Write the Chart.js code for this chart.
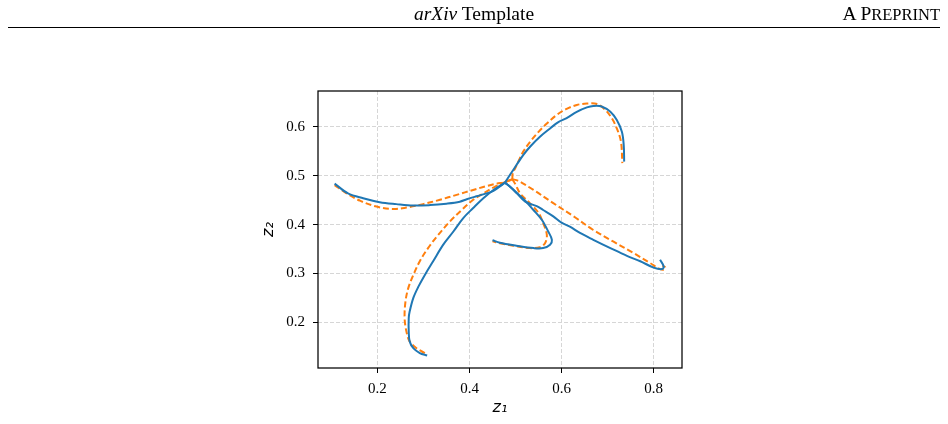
<!DOCTYPE html>
<html>
<head>
<meta charset="utf-8">
<script src="https://cdn.jsdelivr.net/npm/chart.js@4.4.1/dist/chart.umd.min.js"></script>
<style>
  html, body { margin: 0; padding: 0; background: #fff; }
  #wrap { position: relative; width: 948px; height: 424px; overflow: hidden; }
  #c { position: absolute; left: 0; top: 0; }
  .hdr { position: absolute; font-family: "Liberation Serif", "Times New Roman", serif; font-size: 19.5px; line-height: 20px; color: #000; white-space: nowrap; }
  #title { left: 0; width: 948px; top: 4px; text-align: center; padding-left: 0px; }
  #pre { right: 8px; top: 4px; }
  #pre .sc { font-size: 16.5px; }
  #rule { position: absolute; left: 8px; width: 932px; top: 27px; height: 1px; background: #000; }
</style>
</head>
<body>
<div id="wrap">
  <canvas id="c" width="948" height="424"></canvas>
  <div class="hdr" id="title"><i>arXiv</i> Template</div>
  <div class="hdr" id="pre">A P<span class="sc">REPRINT</span></div>
  <div id="rule"></div>
</div>
<script>
// ---- data (z1, z2) ----
const trueLeft = [[0.107,0.484],[0.136,0.464],[0.169,0.454],[0.205,0.446],[0.241,0.442],[0.278,0.439],[0.314,0.440],[0.350,0.443],[0.379,0.447],[0.394,0.452],[0.415,0.458],[0.437,0.464],[0.452,0.469],[0.470,0.481],[0.477,0.486]];
const predLeft = [[0.107,0.481],[0.133,0.464],[0.162,0.449],[0.198,0.437],[0.234,0.432],[0.263,0.435],[0.299,0.442],[0.336,0.451],[0.372,0.461],[0.408,0.471],[0.437,0.479],[0.459,0.484],[0.477,0.487],[0.493,0.493]];

const trueLowLeft = [[0.308,0.132],[0.292,0.137],[0.278,0.147],[0.270,0.161],[0.268,0.181],[0.268,0.209],[0.270,0.222],[0.278,0.250],[0.289,0.273],[0.303,0.297],[0.321,0.325],[0.343,0.359],[0.365,0.386],[0.386,0.413],[0.408,0.434],[0.430,0.454],[0.452,0.471],[0.477,0.486]];
const predLowLeft = [[0.303,0.137],[0.285,0.147],[0.270,0.161],[0.263,0.181],[0.259,0.209],[0.261,0.243],[0.267,0.270],[0.278,0.297],[0.292,0.325],[0.310,0.352],[0.332,0.379],[0.357,0.406],[0.383,0.430],[0.408,0.451],[0.430,0.464],[0.452,0.476],[0.477,0.487],[0.493,0.493]];

const trueUpRight = [[0.477,0.486],[0.488,0.502],[0.502,0.522],[0.517,0.543],[0.532,0.560],[0.553,0.580],[0.575,0.597],[0.593,0.610],[0.611,0.618],[0.633,0.631],[0.655,0.640],[0.669,0.643],[0.687,0.642],[0.706,0.631],[0.720,0.614],[0.731,0.590],[0.735,0.563],[0.736,0.529]];
const predUpRight = [[0.493,0.493],[0.494,0.505],[0.499,0.515],[0.506,0.529],[0.517,0.550],[0.532,0.570],[0.550,0.590],[0.568,0.607],[0.590,0.625],[0.611,0.637],[0.633,0.645],[0.655,0.648],[0.677,0.647],[0.695,0.635],[0.709,0.618],[0.720,0.597],[0.729,0.570],[0.732,0.526]];

const trueHook = [[0.477,0.486],[0.490,0.476],[0.506,0.462],[0.521,0.449],[0.539,0.430],[0.557,0.410],[0.571,0.386],[0.579,0.369],[0.575,0.359],[0.560,0.352],[0.539,0.352],[0.502,0.357],[0.466,0.363],[0.450,0.368]];
const predHook = [[0.493,0.493],[0.500,0.482],[0.510,0.464],[0.531,0.444],[0.550,0.424],[0.560,0.403],[0.568,0.379],[0.564,0.362],[0.553,0.354],[0.531,0.352],[0.495,0.357],[0.466,0.362],[0.450,0.366]];

const trueRight = [[0.477,0.486],[0.490,0.476],[0.503,0.464],[0.521,0.447],[0.546,0.438],[0.560,0.430],[0.582,0.417],[0.600,0.404],[0.618,0.396],[0.640,0.383],[0.669,0.369],[0.706,0.352],[0.742,0.336],[0.771,0.325],[0.800,0.312],[0.818,0.309],[0.822,0.314],[0.814,0.328]];
const predRight = [[0.493,0.493],[0.505,0.490],[0.539,0.471],[0.582,0.444],[0.626,0.417],[0.669,0.389],[0.713,0.365],[0.756,0.342],[0.793,0.321],[0.814,0.309],[0.823,0.308],[0.825,0.313],[0.819,0.316]];

const xTicks = [0.2, 0.4, 0.6, 0.8];
const yTicks = [0.2, 0.3, 0.4, 0.5, 0.6];
const xLabel = 'z\u2081';
const yLabel = 'z\u2082';

const BLUE = '#1f77b4', ORANGE = '#ff7f0e';
const toPts = arr => arr.map(p => ({x: p[0], y: p[1]}));
const trueSets = [trueLeft, trueLowLeft, trueUpRight, trueHook, trueRight];
const predSets = [predLeft, predLowLeft, predUpRight, predHook, predRight];
const datasets = [];
trueSets.forEach(s => datasets.push({data: toPts(s), borderColor: BLUE, borderWidth: 2, pointRadius: 0, tension: 0.35, fill: false}));
predSets.forEach(s => datasets.push({data: toPts(s), borderColor: ORANGE, borderWidth: 2, borderDash: [6, 3], pointRadius: 0, tension: 0.35, fill: false}));

const frame = {
  id: 'frame',
  afterDraw(chart) {
    const a = chart.chartArea, ctx = chart.ctx;
    ctx.save();
    ctx.strokeStyle = '#000';
    ctx.lineWidth = 1.25;
    ctx.strokeRect(a.left, a.top, a.right - a.left, a.bottom - a.top);
    ctx.restore();
  }
};

const tickFont = {family: '"Liberation Serif", "Times New Roman", serif', size: 15};
const titleFont = {family: '"DejaVu Sans", sans-serif', size: 16, style: 'italic'};

new Chart(document.getElementById('c'), {
  type: 'line',
  data: {datasets},
  plugins: [frame],
  options: {
    responsive: false,
    animation: false,
    parsing: true,
    layout: {padding: {left: 250, right: 266, top: 91, bottom: 0}},
    plugins: {legend: {display: false}, tooltip: {enabled: false}},
    scales: {
      x: {
        type: 'linear', min: 0.0709, max: 0.8616,
        afterFit: s => { s.height = 56; },
        afterBuildTicks: s => { s.ticks = xTicks.map(v => ({value: v})); },
        ticks: {color: '#000', font: tickFont, padding: 7, maxRotation: 0, callback: v => Number(v).toFixed(1)},
        grid: {color: '#d6d6d6', lineWidth: 1, tickColor: '#000', tickLength: 5, tickWidth: 1},
        border: {display: false, dash: [4, 2]},
        title: {display: true, text: xLabel, color: '#000', font: titleFont, padding: 7}
      },
      y: {
        type: 'linear', min: 0.1065, max: 0.6736,
        afterFit: s => { s.width = 68; },
        afterBuildTicks: s => { s.ticks = yTicks.map(v => ({value: v})); },
        ticks: {color: '#000', font: tickFont, padding: 8, callback: v => Number(v).toFixed(1)},
        grid: {color: '#d6d6d6', lineWidth: 1, tickColor: '#000', tickLength: 5, tickWidth: 1},
        border: {display: false, dash: [4, 2]},
        title: {display: true, text: yLabel, color: '#000', font: titleFont, padding: 9}
      }
    }
  }
});
</script>
</body>
</html>
